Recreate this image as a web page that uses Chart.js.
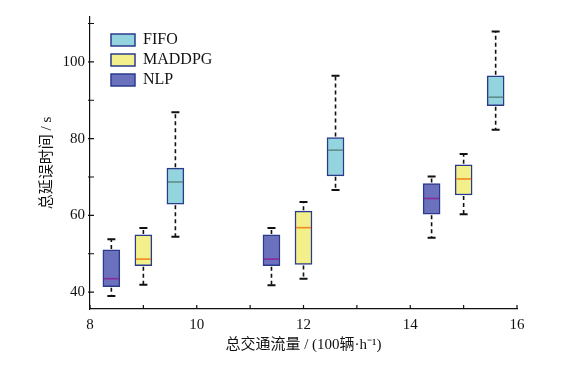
<!DOCTYPE html>
<html lang="zh">
<head>
    <meta charset="UTF-8">
    <title>总延误时间箱线图</title>
    <script src="https://cdn.jsdelivr.net/npm/chart.js@4"></script>
    <style>
        body {
            margin: 0;
            background-color: #ffffff;
        }
        .chart-box {
            width: 562px;
            height: 368px;
        }
    </style>
</head>
<body>
    <div class="chart-box">
        <canvas id="delayChart"></canvas>
    </div>

    <script>
        // 方法名称（图例顺序）
        const methods = ['FIFO', 'MADDPG', 'NLP'];

        // 各箱体在横轴上的位置 (100辆·h^-1)
        const fifoPos = [9.6, 12.6, 15.6];
        const maddpgPos = [9.0, 12.0, 15.0];
        const nlpPos = [8.4, 11.4, 14.4];

        // 每个箱体: [最小值, 下四分位, 中位数, 上四分位, 最大值]
        const fifoStats = [
            [54.4, 62.9, 68.7, 72.3, 86.9],
            [66.6, 70.3, 77.0, 80.3, 96.4],
            [82.3, 88.6, 90.8, 96.4, 107.9]
        ];
        const maddpgStats = [
            [41.9, 46.9, 48.6, 54.9, 56.7],
            [43.5, 47.2, 56.8, 61.1, 63.5],
            [60.3, 65.3, 69.5, 73.2, 76.0]
        ];
        const nlpStats = [
            [39.0, 41.4, 43.5, 51.0, 53.8],
            [41.8, 46.9, 48.6, 54.9, 56.7],
            [54.2, 60.3, 64.4, 68.3, 70.1]
        ];

        // 坐标轴
        const xMin = 8, xMax = 16;
        const yMin = 35.6, yMax = 111.7;
        const xTickValues = [8, 9, 10, 11, 12, 13, 14, 15, 16];
        const yTickValues = [40, 50, 60, 70, 80, 90, 100, 110];

        const fillColors = ['#94d4de', '#f3f08c', '#6c71bd'];
        const medianColors = ['#5f8e8b', '#f08a1e', '#8a2a98'];
        const edgeColor = '#2b3b8c';
        const serif = '"Liberation Serif", "Noto Sans CJK SC", serif';

        const allPos = [fifoPos, maddpgPos, nlpPos];
        const allStats = [fifoStats, maddpgStats, nlpStats];

        const datasets = methods.map((name, k) => ({
            label: name,
            data: allPos[k].map((x, i) => ({ x: x, y: [allStats[k][i][1], allStats[k][i][3]] })),
            backgroundColor: fillColors[k],
            borderColor: edgeColor,
            borderWidth: 1.5,
            borderSkipped: false,
            barThickness: 17,
            grouped: false,
            stats: allStats[k],
            medianColor: medianColors[k]
        }));

        // 须线、端线与中位线
        const boxPlugin = {
            id: 'boxExtras',
            afterDatasetsDraw(chart) {
                const ctx = chart.ctx;
                const yScale = chart.scales.y;
                chart.data.datasets.forEach((ds, k) => {
                    const meta = chart.getDatasetMeta(k);
                    meta.data.forEach((bar, i) => {
                        const s = ds.stats[i];
                        const x = bar.x;
                        const half = bar.width / 2;
                        const yLo = yScale.getPixelForValue(s[0]);
                        const yQ1 = yScale.getPixelForValue(s[1]);
                        const yMed = yScale.getPixelForValue(s[2]);
                        const yQ3 = yScale.getPixelForValue(s[3]);
                        const yHi = yScale.getPixelForValue(s[4]);
                        ctx.save();
                        // 虚线须
                        ctx.strokeStyle = '#111';
                        ctx.lineWidth = 1.6;
                        ctx.setLineDash([4, 3]);
                        ctx.beginPath();
                        ctx.moveTo(x, yQ3 - 1);
                        ctx.lineTo(x, yHi);
                        ctx.moveTo(x, yQ1 + 1);
                        ctx.lineTo(x, yLo);
                        ctx.stroke();
                        // 端线
                        ctx.setLineDash([]);
                        ctx.lineWidth = 2;
                        ctx.beginPath();
                        ctx.moveTo(x - 4, yHi);
                        ctx.lineTo(x + 4, yHi);
                        ctx.moveTo(x - 4, yLo);
                        ctx.lineTo(x + 4, yLo);
                        ctx.stroke();
                        // 中位线
                        ctx.strokeStyle = ds.medianColor;
                        ctx.lineWidth = 1.6;
                        ctx.beginPath();
                        ctx.moveTo(x - half + 1, yMed);
                        ctx.lineTo(x + half - 1, yMed);
                        ctx.stroke();
                        ctx.restore();
                    });
                });
            }
        };

        // 朝内的刻度线
        const innerTicks = {
            id: 'innerTicks',
            afterDraw(chart) {
                const ctx = chart.ctx;
                const xs = chart.scales.x, ys = chart.scales.y;
                const area = chart.chartArea;
                ctx.save();
                ctx.strokeStyle = '#111';
                ctx.lineWidth = 1.2;
                ctx.beginPath();
                xs.ticks.forEach(t => {
                    const px = xs.getPixelForValue(t.value);
                    ctx.moveTo(px, area.bottom);
                    ctx.lineTo(px, area.bottom - 4);
                });
                ys.ticks.forEach(t => {
                    const py = ys.getPixelForValue(t.value);
                    ctx.moveTo(area.left - 2, py);
                    ctx.lineTo(area.left + 4, py);
                });
                ctx.stroke();
                ctx.restore();
            }
        };

        // 图例放在绘图区内左上
        const legendShift = {
            id: 'legendShift',
            afterLayout(chart) {
                chart.legend.left += 17;
                chart.legend.top += 28;
            }
        };

        new Chart(document.getElementById('delayChart'), {
            type: 'bar',
            data: { datasets: datasets },
            options: {
                responsive: true,
                maintainAspectRatio: false,
                animation: false,
                layout: { padding: { left: 0, top: 17, right: 45, bottom: 0 } },
                plugins: {
                    tooltip: { enabled: false },
                    legend: {
                        position: 'chartArea',
                        align: 'start',
                        labels: {
                            boxWidth: 24,
                            boxHeight: 12,
                            padding: 4,
                            color: '#111',
                            font: { family: serif, size: 16 },
                            generateLabels(chart) {
                                return chart.data.datasets.map((ds, k) => ({
                                    text: ds.label,
                                    fillStyle: ds.backgroundColor,
                                    strokeStyle: edgeColor,
                                    lineWidth: 1.5,
                                    fontColor: '#111',
                                    datasetIndex: k
                                }));
                            }
                        }
                    }
                },
                scales: {
                    x: {
                        type: 'linear',
                        min: xMin,
                        max: xMax,
                        offset: false,
                        grid: { display: true, drawOnChartArea: false, drawTicks: false },
                        border: { display: true, color: '#111', width: 1.2 },
                        afterBuildTicks(scale) {
                            scale.ticks = xTickValues.map(v => ({ value: v }));
                        },
                        ticks: {
                            padding: 7,
                            color: '#111',
                            maxRotation: 0,
                            autoSkip: false,
                            font: { family: serif, size: 15 },
                            callback: v => (v % 2 === 0 ? String(v) : '')
                        },
                        title: {
                            display: true,
                            text: '总交通流量 / (100辆·h⁻¹)',
                            color: '#111',
                            font: { family: serif, size: 15 },
                            padding: { top: 0, bottom: 14 }
                        },
                        afterFit(scale) { scale.height = 59; }
                    },
                    y: {
                        min: yMin,
                        max: yMax,
                        grid: { display: true, drawOnChartArea: false, drawTicks: false },
                        border: { display: true, color: '#111', width: 1.2 },
                        afterBuildTicks(scale) {
                            scale.ticks = yTickValues.map(v => ({ value: v }));
                        },
                        ticks: {
                            padding: 5,
                            color: '#111',
                            autoSkip: false,
                            font: { family: serif, size: 15 },
                            callback: v => (v % 20 === 0 ? String(v) : '')
                        },
                        title: {
                            display: true,
                            text: '总延误时间 / s',
                            color: '#111',
                            font: { family: serif, size: 15 },
                            padding: { top: 38, bottom: 0 }
                        },
                        afterFit(scale) { scale.width = 90; }
                    }
                }
            },
            plugins: [boxPlugin, innerTicks, legendShift]
        });
    </script>
</body>
</html>
